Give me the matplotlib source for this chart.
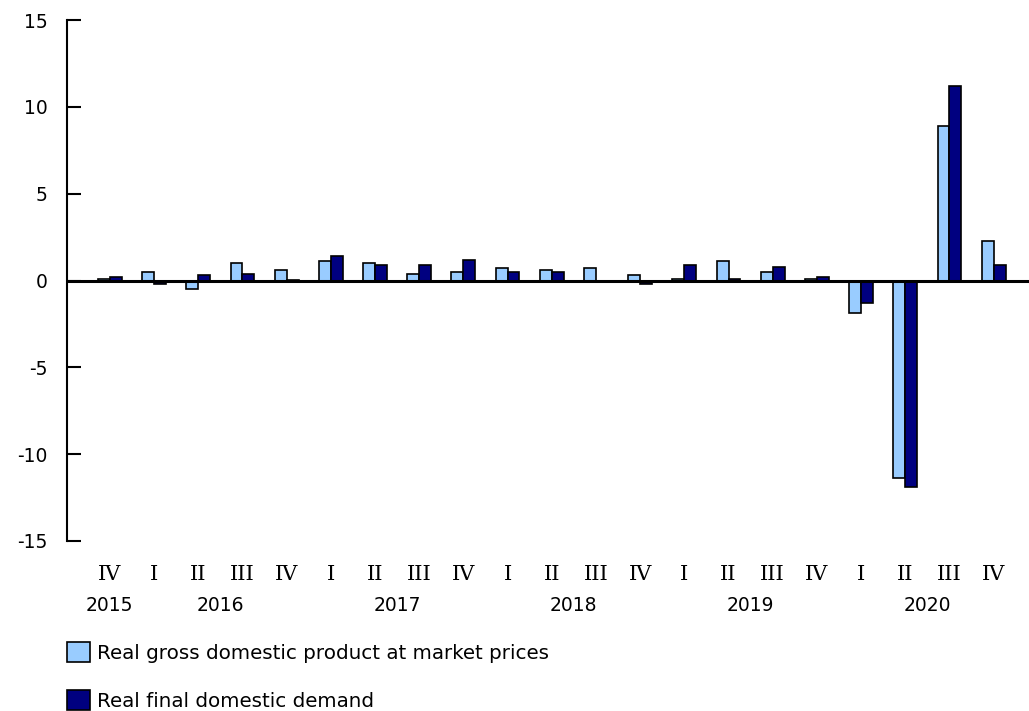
import matplotlib
matplotlib.use("Agg")
import matplotlib.pyplot as plt
import numpy as np

quarters = ["IV", "I", "II", "III", "IV", "I", "II", "III", "IV", "I", "II", "III",
            "IV", "I", "II", "III", "IV", "I", "II", "III", "IV"]
years = ["2015", "2016", "2017", "2018", "2019", "2020"]
year_spans = [(0, 0), (1, 4), (5, 8), (9, 12), (13, 16), (17, 20)]
gdp = [0.1, 0.5, -0.5, 1.0, 0.6, 1.1, 1.0, 0.4, 0.5, 0.7, 0.6, 0.7,
       0.3, 0.1, 1.1, 0.5, 0.1, -1.9, -11.4, 8.9, 2.3]
fdd = [0.2, -0.2, 0.3, 0.4, 0.05, 1.4, 0.9, 0.9, 1.2, 0.5, 0.5, 0.0,
       -0.2, 0.9, 0.1, 0.8, 0.2, -1.3, -11.9, 11.2, 0.9]
series_names = ["Real gross domestic product at market prices", "Real final domestic demand"]
colors = ["#99CCFF", "#000080"]

plt.rcParams["font.family"] = ["DejaVu Sans"]
fig = plt.figure(figsize=(10.29, 7.11), dpi=100)
ax = fig.add_axes([67/1029, 1-541/711, 1-67/1029, (541-20)/711])

x = np.arange(len(quarters))
w = 0.27
b1 = ax.bar(x - w/2, gdp, w, color=colors[0], edgecolor="black", linewidth=1.2, label=series_names[0], zorder=2)
b2 = ax.bar(x + w/2, fdd, w, color=colors[1], edgecolor="black", linewidth=1.2, label=series_names[1], zorder=2)
ax.axhline(0, color="black", linewidth=2.2, zorder=3)

ax.set_ylim(-15, 15)
ax.set_xlim(-0.97, 20.8)
ax.set_yticks([-15, -10, -5, 0, 5, 10, 15])
ax.set_yticklabels(["-15", "-10", "-5", "0", "5", "10", "15"], fontsize=13.5)
ax.tick_params(axis="y", direction="in", length=10, width=1.5, pad=14)
ax.set_xticks(x)
ax.set_xticklabels(quarters, fontsize=15, family="DejaVu Serif")
ax.tick_params(axis="x", length=0, pad=17)
for s in ["top", "right", "bottom"]:
    ax.spines[s].set_visible(False)
ax.spines["left"].set_linewidth(1.5)

for yr, (a, b) in zip(years, year_spans):
    ax.text((a + b) / 2, -15 - 3.7, yr, ha="center", va="center", fontsize=13.5,
            transform=ax.transData, clip_on=False)

fig.legend(handles=[b1, b2], labels=series_names, loc="upper left",
           bbox_to_anchor=(67/1029, 1-642/711), frameon=False, fontsize=14.3,
           borderpad=0, borderaxespad=0,
           handlelength=1.15, handleheight=1.15, handletextpad=0.35, labelspacing=1.4)

fig.savefig("out.png", dpi=100)
